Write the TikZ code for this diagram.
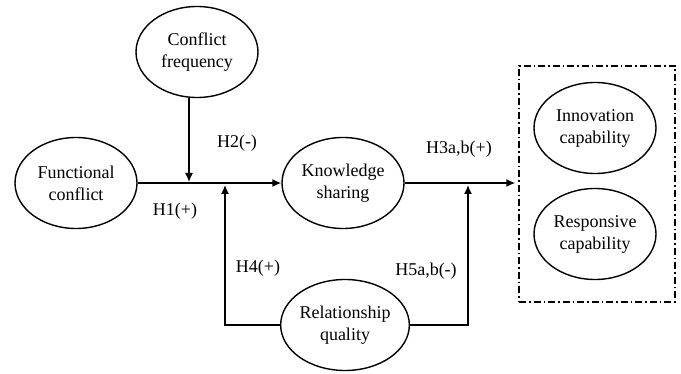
\documentclass[tikz,border=0pt]{standalone}
\usepackage{fontspec}
\setmainfont{Liberation Serif}
\usetikzlibrary{arrows.meta,shapes.geometric}
\begin{document}
\begin{tikzpicture}[x=1pt,y=-1pt,
  every node/.style={font=\fontsize{18}{22}\selectfont},
  oval/.style={draw,line width=1.4pt,ellipse,minimum width=122pt,minimum height=91pt,inner sep=0pt,align=center},
  conn/.style={line width=1.4pt},
  arr/.style={conn,-{Latex[length=9pt,width=8pt]}},
  dashbox/.style={draw,line width=1.4pt,dash pattern=on 7pt off 3pt on 1.5pt off 3pt,minimum width=156pt,minimum height=236pt,inner sep=0pt},
  lbl/.style={inner sep=0pt}]
\useasboundingbox (0,0) rectangle (681,374);
\node[oval] (cf) at (197,52) {Conflict\\frequency};
\node[oval] (fc) at (76,183) {Functional\\conflict};
\node[oval] (ks) at (343,183) {Knowledge\\sharing};
\node[oval] (rq) at (345,325) {Relationship\\quality};
\node[dashbox] (box) at (597,184) {};
\node[oval] (ic) at (595,128) {Innovation\\capability};
\node[oval] (rc) at (595,234) {Responsive\\capability};
\coordinate (j1) at (189,182);
\coordinate (j2) at (225,185);
\coordinate (j3) at (468,185);
\draw[arr] (fc) -- (ks);
\draw[arr] (cf.south -| j1) -- (j1);
\draw[arr] (rq.west) -| (j2);
\draw[arr] (rq.east) -| (j3);
\draw[arr,shorten >=3pt] (ks.east) -- (ks.east -| box.west);
\node[lbl] (h2) at (237,143) {H2(-)};
\node[lbl] (h1) at (175,211) {H1(+)};
\node[lbl] (h3) at (459,149) {H3a,b(+)};
\node[lbl] (h4) at (258,268) {H4(+)};
\node[lbl] (h5) at (426,271) {H5a,b(-)};
\end{tikzpicture}
\end{document}
